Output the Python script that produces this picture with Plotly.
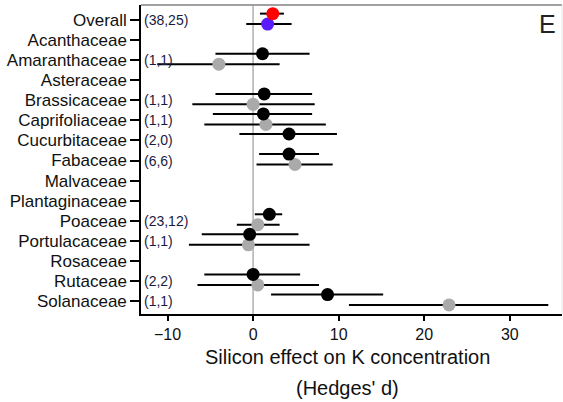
import plotly.graph_objects as go

categories = ["Overall", "Acanthaceae", "Amaranthaceae", "Asteraceae", "Brassicaceae",
              "Caprifoliaceae", "Cucurbitaceae", "Fabaceae", "Malvaceae", "Plantaginaceae",
              "Poaceae", "Portulacaceae", "Rosaceae", "Rutaceae", "Solanaceae"]
count_labels = ["(38,25)", "", "(1,1)", "", "(1,1)", "(1,1)", "(2,0)", "(6,6)", "", "",
                "(23,12)", "(1,1)", "", "(2,2)", "(1,1)"]

# first study group (black), per family; Overall handled separately
black_mean = [None, None, 1.1, None, 1.3, 1.2, 4.2, 4.2, None, None, 1.9, -0.4, None, 0.0, 8.7]
black_lo   = [None, None, -4.4, None, -4.4, -4.7, -1.6, 0.7, None, None, 0.2, -6.0, None, -5.7, 2.1]
black_hi   = [None, None, 6.6, None, 6.9, 6.9, 9.8, 7.7, None, None, 3.4, 5.3, None, 5.5, 15.2]
# second study group (grey)
grey_mean = [None, None, -4.0, None, 0.0, 1.5, None, 4.9, None, None, 0.55, -0.55, None, 0.55, 22.9]
grey_lo   = [None, None, -11.2, None, -7.1, -5.7, None, 0.4, None, None, -1.9, -7.5, None, -6.5, 11.2]
grey_hi   = [None, None, 3.1, None, 7.2, 8.5, None, 9.3, None, None, 3.1, 6.6, None, 7.7, 34.5]
# Overall estimates
overall_red = [2.3, 0.8, 3.6]
overall_blue = [1.7, -0.8, 4.5]

x_ticks = [-10, 0, 10, 20, 30]

OFF_A, OFF_B = -0.32, 0.2

def series(mean, lo, hi, off):
    xs, ys, plus, minus = [], [], [], []
    for i, (m, l, h) in enumerate(zip(mean, lo, hi)):
        if m is None:
            continue
        xs.append(m); ys.append(i + off); plus.append(h - m); minus.append(m - l)
    return xs, ys, plus, minus

fig = go.Figure()

def add(xs, ys, plus, minus, color):
    fig.add_trace(go.Scatter(
        x=xs, y=ys, mode="markers",
        marker=dict(color=color, size=13, line=dict(width=0)),
        error_x=dict(type="data", symmetric=False, array=plus, arrayminus=minus,
                     color="black", thickness=2, width=0),
        showlegend=False, hoverinfo="skip"))

add(*series(grey_mean, grey_lo, grey_hi, OFF_B), "#aaaaaa")
add(*series(black_mean, black_lo, black_hi, OFF_A), "black")
add([overall_blue[0]], [0 + OFF_B], [overall_blue[2] - overall_blue[0]],
    [overall_blue[0] - overall_blue[1]], "#5a1cff")
add([overall_red[0]], [0 + OFF_A], [overall_red[2] - overall_red[0]],
    [overall_red[0] - overall_red[1]], "#ff0000")

# zero reference line
fig.add_shape(type="line", x0=0, x1=0, y0=0, y1=1, xref="x", yref="paper",
              line=dict(color="#b0b0b0", width=1.5), layer="below")
# top and right frame (grey)
fig.add_shape(type="line", x0=0, x1=1, y0=1, y1=1, xref="paper", yref="paper",
              line=dict(color="#a0a0a0", width=2))
fig.add_shape(type="line", x0=1, x1=1, y0=0, y1=1, xref="paper", yref="paper",
              line=dict(color="#e6e6e6", width=1))

for i, t in enumerate(count_labels):
    if t:
        fig.add_annotation(x=0, xref="paper", y=i, yref="y", text=t, showarrow=False,
                           xanchor="left", xshift=1,
                           font=dict(size=14, color="#1a1a40",
                                     family="Liberation Sans Narrow, Liberation Sans, Arial"))

fig.add_annotation(x=1, y=1, xref="paper", yref="paper", text="E", showarrow=False,
                   xanchor="right", yanchor="top", xshift=-4, yshift=-3,
                   font=dict(size=25, color="#222"))
fig.add_annotation(x=0.5, y=-43/309, xref="paper", yref="paper",
                   text="Silicon effect on K concentration", showarrow=False,
                   yanchor="middle", xshift=-4, font=dict(size=20, color="#111"))
fig.add_annotation(x=0.5, y=-74/309, xref="paper", yref="paper",
                   text="(Hedges' d)", showarrow=False,
                   yanchor="middle", xshift=-4, font=dict(size=20, color="#111"))

fig.update_layout(
    width=563, height=402,
    margin=dict(l=141, r=1, t=5, b=88),
    paper_bgcolor="white", plot_bgcolor="white",
    font=dict(family="Liberation Sans, Arial, sans-serif", size=17, color="#111"),
    xaxis=dict(range=[-13.1, 36.1], tickvals=x_ticks, ticktext=["\u221210", "0", "10", "20", "30"],
               showgrid=False, zeroline=False, showline=True, linecolor="black", linewidth=1.5,
               ticks="outside", ticklen=5, tickwidth=1.5, tickcolor="black",
               tickfont=dict(size=16)),
    yaxis=dict(range=[14.65, -0.75], tickvals=list(range(len(categories))), ticktext=categories,
               showgrid=False, zeroline=False, showline=True, linecolor="black", linewidth=1.5,
               ticks="outside", ticklen=9, tickwidth=1.5, tickcolor="black",
               tickfont=dict(size=17)),
)

fig.write_html("out.html", config={"displayModeBar": False},
               post_script="document.body.style.margin='0';document.body.style.overflow='hidden';")
